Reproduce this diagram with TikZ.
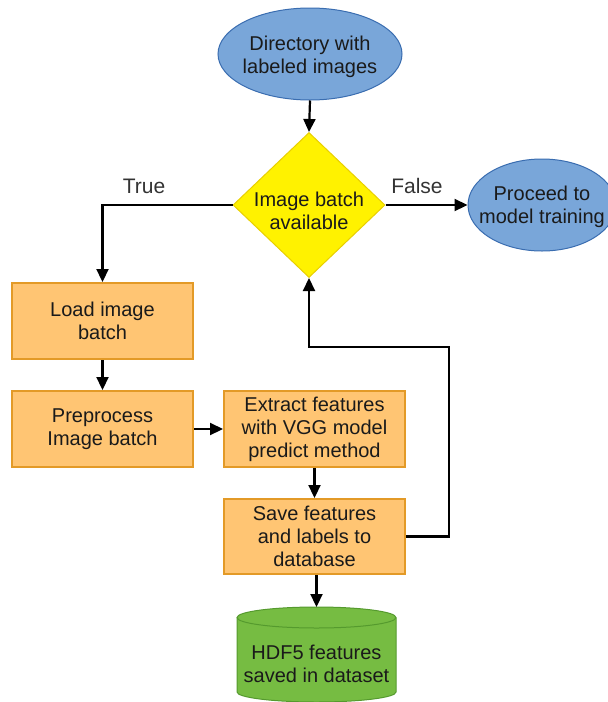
\documentclass[tikz,border=0pt]{standalone}
\usepackage{fontspec}
\setmainfont{Liberation Sans}
\usetikzlibrary{shapes.geometric,arrows.meta}
\definecolor{bluefill}{HTML}{79A6D9}
\definecolor{blueline}{HTML}{3A6DB0}
\definecolor{orfill}{HTML}{FFC573}
\definecolor{orline}{HTML}{E39A27}
\definecolor{yefill}{HTML}{FFF200}
\definecolor{yeline}{HTML}{E8CF00}
\definecolor{grfill}{HTML}{76BC42}
\definecolor{grline}{HTML}{559A2E}
\definecolor{txt}{HTML}{1A1A1A}
\tikzset{
  base/.style={align=center, text=txt, font=\fontsize{20}{23}\selectfont},
  term/.style={ellipse, fill=bluefill, draw=blueline, line width=1pt, inner sep=0pt},
  decision/.style={diamond, fill=yefill, draw=yeline, line width=1pt, inner sep=0pt},
  procbox/.style={base, rectangle, fill=orfill, draw=orline, line width=2pt, minimum width=181pt, minimum height=76pt, inner sep=0pt},
  conn/.style={line width=2.2pt, -{Triangle[width=12pt,length=13pt]}},
  lbl/.style={text=black!80, font=\fontsize{21}{24}\selectfont}
}
\begin{document}
\begin{tikzpicture}[x=1pt,y=1pt]
\useasboundingbox (0,0) rectangle (608,-702);
\node[term, minimum width=184pt, minimum height=92pt,
  label={[base,yshift=-3pt]center:Directory with\\labeled images}] (dir) at (310,-54) {};
\node[decision, minimum width=152pt, minimum height=145pt,
  label={[base,yshift=-6pt]center:Image batch\\available}] (dec) at (309,-205) {};
\node[term, minimum width=148pt, minimum height=92pt,
  label={[base,yshift=-2pt]center:Proceed to\\model training}] (proc) at (542,-205) {};
\node[procbox] (load) at (102.5,-321) {Load image\\batch};
\node[procbox] (pre) at (102.5,-429) {Preprocess\\Image batch};
\node[procbox] (ext) at (314.5,-429) {Extract features\\with VGG model\\predict method};
\node[procbox, minimum height=75pt] (save) at (314.5,-536.5) {Save features\\and labels to\\database};
% cylinder
\coordinate (dbtop) at (316.5,-607);
\fill[grfill] (237,-617.5) -- (237,-692) arc[start angle=180,end angle=360,x radius=79.5,y radius=10] -- (396,-617.5) arc[start angle=0,end angle=180,x radius=79.5,y radius=10.5] -- cycle;
\draw[grline, line width=1pt] (237,-617.5) -- (237,-692) arc[start angle=180,end angle=360,x radius=79.5,y radius=10] -- (396,-617.5);
\draw[grline, line width=1pt] (316.5,-617.5) ellipse[x radius=79.5, y radius=10.5];
\node[base] (db) at (316.5,-664) {HDF5 features\\saved in dataset};
% connectors
\draw[conn] (dir.south) -- (dec.north);
\draw[conn] (dec.east) -- (proc.west);
\node[lbl] (flab) at (417,-186) {False};
\draw[conn] (dec.west) -| (load.north);
\node[lbl] (tlab) at (144,-186) {True};
\draw[conn] (load.south) -- (pre.north);
\draw[conn] (pre.east) -- (ext.west);
\draw[conn] (ext.south) -- (save.north);
\coordinate (loopc) at (449,-347);
\draw[conn] (save.east) -| (loopc) -- (dec.south |- loopc) -- (dec.south);
\draw[conn] (save.south -| dbtop) -- (dbtop);
\end{tikzpicture}
\end{document}
